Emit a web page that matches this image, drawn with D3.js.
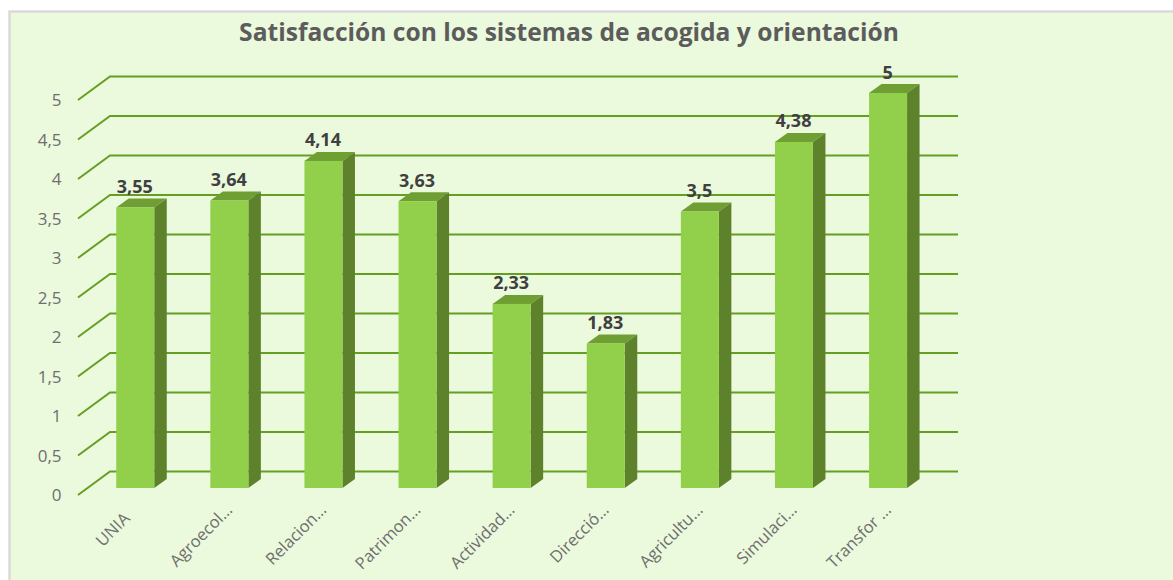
<!DOCTYPE html>
<html><head><meta charset="utf-8">
<script src="https://cdn.jsdelivr.net/npm/d3@7/dist/d3.min.js"></script>
<style>html,body{margin:0;padding:0;background:#fff;overflow:hidden}svg{display:block}text{font-family:"Open Sans","Noto Sans",sans-serif}</style>
</head><body><svg id="c" width="1173" height="580"></svg>
<script>
const titleText = "Satisfacción con los sistemas de acogida y orientación";
const categories = ["UNIA","Agroecol…","Relacion…","Patrimon…","Actividad…","Direcció…","Agricultu…","Simulaci…","Transfor …"];
const values = [3.55,3.64,4.14,3.63,2.33,1.83,3.5,4.38,5];
const valueLabels = ["3,55","3,64","4,14","3,63","2,33","1,83","3,5","4,38","5"];
const ticks = [0,0.5,1,1.5,2,2.5,3,3.5,4,4.5,5];
const tickLabels = ["0","0,5","1","1,5","2","2,5","3","3,5","4","4,5","5"];

const svg = d3.select("#c");
svg.append("rect").attr("x",9.5).attr("y",11.5).attr("width",1170).attr("height",575)
  .attr("fill","#ebf9dc").attr("stroke","#d9d9d9").attr("stroke-width",2.4);

const x = d3.scaleBand().domain(categories).range([88.2,935.1]).paddingInner(0.596).paddingOuter(0.298);
const y = d3.scaleLinear().domain([0,5]).range([488,93]);
const dx = 12.5, dy = -9;          // bar depth
const gFront = {x:78, dy:7}, gBack = {x:110, dy:-16.5}, gEnd = 958;

svg.append("text").attr("x",569).attr("y",41).attr("text-anchor","middle")
  .attr("font-size",24.6).attr("font-weight",700).attr("fill","#5c5c5c").text(titleText);

// gridlines
svg.append("g").selectAll("path").data(ticks).join("path")
  .attr("d",d=>`M${gFront.x},${y(d)+gFront.dy}L${gBack.x},${y(d)+gBack.dy}L${gEnd},${y(d)+gBack.dy}`)
  .attr("fill","none").attr("stroke","#649f22").attr("stroke-width",2);

// value axis labels
svg.append("g").selectAll("text").data(ticks).join("text")
  .attr("x",61.5).attr("y",d=>y(d)+gFront.dy+6).attr("text-anchor","end")
  .attr("font-size",17).attr("fill","#6e6e6e").text((d,i)=>tickLabels[i]);

// bars
const bars = svg.append("g").selectAll("g").data(categories).join("g");
const bw = x.bandwidth();
bars.append("path").attr("fill","#6f9f32")
  .attr("d",(c,i)=>{const X=x(c),T=y(values[i]);return `M${X},${T}l${dx},${dy}h${bw}l${-dx},${-dy}z`;});
bars.append("path").attr("fill","#5e822c")
  .attr("d",(c,i)=>{const X=x(c)+bw,T=y(values[i]);return `M${X},${T}l${dx},${dy}V${y(0)+dy}L${X},${y(0)}z`;});
bars.append("rect").attr("x",c=>x(c)).attr("y",(c,i)=>y(values[i])).attr("width",bw)
  .attr("height",(c,i)=>y(0)-y(values[i])).attr("fill","#92d04b");

// value labels
bars.append("text").attr("x",c=>x(c)+bw/2-0.5).attr("y",(c,i)=>y(values[i])-14.5)
  .attr("text-anchor","middle").attr("font-size",18).attr("font-weight",700).attr("fill","#404040")
  .text((c,i)=>valueLabels[i]);

// category labels: truncated ones run further along the slant than whole ones
bars.append("text").attr("text-anchor","end").attr("font-size",16.5).attr("fill","#6e6e6e")
  .attr("dx",c=>c.includes("…")?0:-12)
  .attr("transform",c=>`translate(${x(c)+bw/2+4},${511}) rotate(-45)`).text(c=>c);
</script></body></html>
